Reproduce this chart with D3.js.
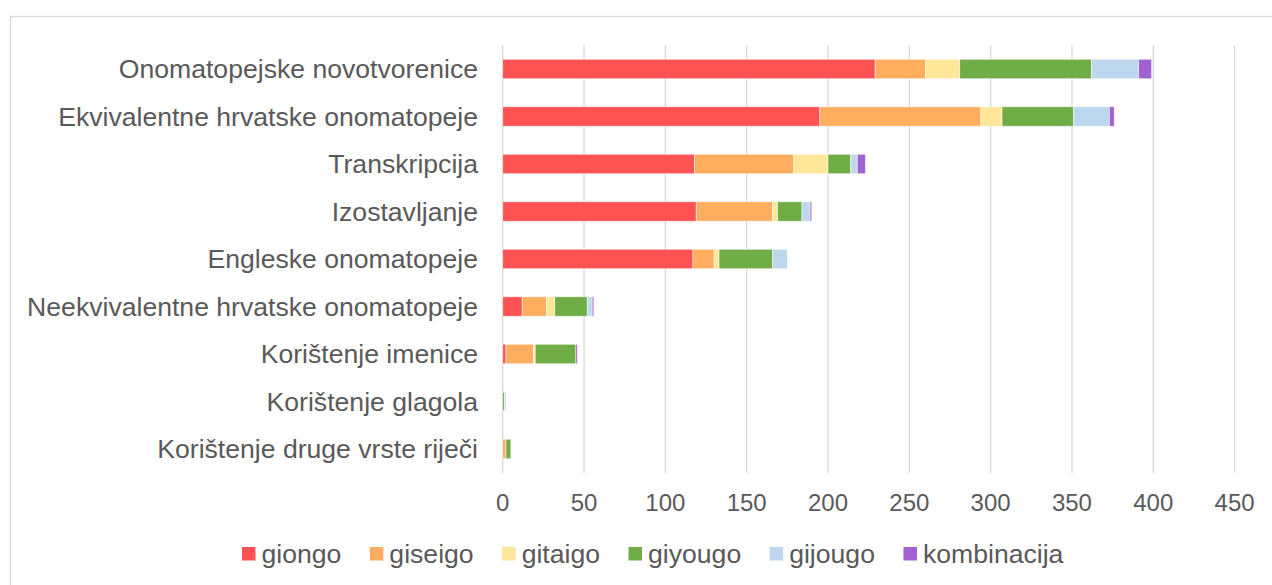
<!DOCTYPE html>
<html>
<head>
<meta charset="utf-8">
<script src="https://cdn.jsdelivr.net/npm/d3@7"></script>
<style>
  body { margin: 0; background: #fff; }
  text { font-family: "Liberation Sans", Arial, sans-serif; fill: #595959; }
</style>
</head>
<body>
<svg width="1272" height="585"></svg>
<script>

let categories = [
  'Onomatopejske novotvorenice',
  'Ekvivalentne hrvatske onomatopeje',
  'Transkripcija',
  'Izostavljanje',
  'Engleske onomatopeje',
  'Neekvivalentne hrvatske onomatopeje',
  'Korištenje imenice',
  'Korištenje glagola',
  'Korištenje druge vrste riječi'
]

let seriesNames = ['giongo', 'giseigo', 'gitaigo', 'giyougo', 'gijougo', 'kombinacija']
let seriesColors = ['#ff5353', '#ffae5f', '#ffe699', '#70ad47', '#bdd7ee', '#a062d0']

let giongo      = [229, 195, 118, 119, 117, 12,  2, 0, 0]
let giseigo     = [ 31,  99,  61,  47,  13, 15, 17, 0, 2]
let gitaigo     = [ 21,  13,  21,   3,   3,  5,  1, 0, 0]
let giyougo     = [ 81,  44,  14,  15,  33, 20, 25, 1, 3]
let gijougo     = [ 29,  22,   4,   5,   9,  3,  0, 1, 0]
let kombinacija = [  8,   3,   5,   1,   0,  1,  1, 0, 0]

let xTicks = [0, 50, 100, 150, 200, 250, 300, 350, 400, 450]

let values = [giongo, giseigo, gitaigo, giyougo, gijougo, kombinacija]

let rows = categories.map((c, i) => {
  let r = { category: c }
  seriesNames.forEach((s, j) => { r[s] = values[j][i] })
  return r
})

let svg = d3.select('svg')

// chart frame
svg.append('rect')
  .attr('x', 10.5).attr('y', 16.5)
  .attr('width', 1300).attr('height', 600)
  .attr('fill', 'none')
  .attr('stroke', '#d9d9d9')
  .attr('stroke-width', 1.3)

let x = d3.scaleLinear().domain([0, 450]).range([502.7, 1234.6])
let y = d3.scaleBand().domain(categories).range([45.25, 472.75])
  .paddingInner(0.59).paddingOuter(0.295)

// gridlines
svg.append('g')
  .selectAll('line')
  .data(xTicks)
  .enter().append('line')
  .attr('x1', d => x(d)).attr('x2', d => x(d))
  .attr('y1', 45).attr('y2', 473)
  .attr('stroke', '#d9d9d9')
  .attr('stroke-width', 1.3)

// tick labels
svg.append('g')
  .selectAll('text')
  .data(xTicks)
  .enter().append('text')
  .attr('x', d => x(d))
  .attr('y', 511)
  .attr('text-anchor', 'middle')
  .style('font-size', '24px')
  .text(d => d)

// category labels
svg.append('g')
  .selectAll('text')
  .data(categories)
  .enter().append('text')
  .attr('x', 478)
  .attr('y', d => y(d) + y.bandwidth() / 2)
  .attr('dy', '0.35em')
  .attr('text-anchor', 'end')
  .style('font-size', '26.6px')
  .text(d => d)

let stack = d3.stack().keys(seriesNames)(rows)

svg.append('g')
  .selectAll('g')
  .data(stack)
  .enter().append('g')
  .attr('fill', (d, i) => seriesColors[i])
  .selectAll('rect')
  .data(d => d)
  .enter().append('rect')
  .attr('x', d => x(d[0]))
  .attr('y', d => y(d.data.category))
  .attr('width', d => x(d[1]) - x(d[0]))
  .attr('height', y.bandwidth())
  .attr('stroke', d => d[1] > d[0] ? '#fff' : 'none')
  .attr('stroke-width', 0.75)
  .attr('stroke-opacity', 0.7)

// legend
let legend = svg.append('g').attr('class', 'legend')
let lx = 242
seriesNames.forEach((s, i) => {
  legend.append('rect')
    .attr('x', lx).attr('y', 547)
    .attr('width', 13.5).attr('height', 13.5)
    .attr('fill', seriesColors[i])
  let t = legend.append('text')
    .attr('x', lx + 19.5)
    .attr('y', 554)
    .attr('dy', '0.35em')
    .style('font-size', '26.6px')
    .text(s)
  lx = lx + 19.5 + t.node().getComputedTextLength() + 28.5
})

</script>
</body>
</html>
